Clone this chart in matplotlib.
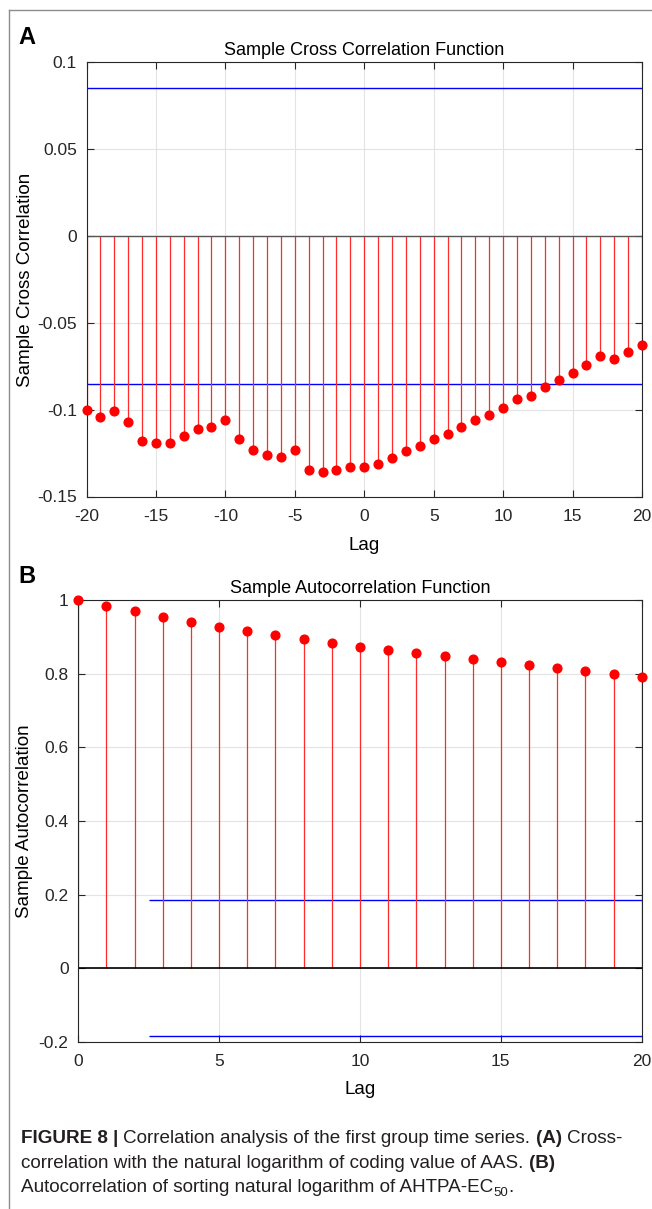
import matplotlib
matplotlib.use("Agg")
import matplotlib.pyplot as plt
from matplotlib.lines import Line2D
from matplotlib.ticker import FormatStrFormatter

plt.rcParams['font.family'] = ['Liberation Sans', 'DejaVu Sans']
plt.rcParams['axes.unicode_minus'] = False

# cross correlation, lags -20..20
lags_xcf = list(range(-20, 21))
xcf = [-0.100, -0.104, -0.101, -0.107, -0.118, -0.119, -0.119, -0.115, -0.111, -0.110,
       -0.106, -0.117, -0.123, -0.126, -0.127, -0.123, -0.135, -0.136, -0.135, -0.133,
       -0.133, -0.131, -0.128, -0.124, -0.121, -0.117, -0.114, -0.110, -0.106, -0.103,
       -0.099, -0.094, -0.092, -0.087, -0.083, -0.079, -0.074, -0.069, -0.071, -0.067,
       -0.063]
xcf_bound = 0.085

# autocorrelation, lags 0..20
lags_acf = list(range(0, 21))
acf = [1.000, 0.984, 0.970, 0.954, 0.941, 0.928, 0.915, 0.904, 0.893, 0.883, 0.873,
       0.865, 0.856, 0.847, 0.839, 0.831, 0.823, 0.816, 0.808, 0.800, 0.792]
acf_bound = 0.185
acf_bound_start = 2.5

xcf_yticks = [-0.15, -0.1, -0.05, 0, 0.05, 0.1]
acf_yticks = [-0.2, 0, 0.2, 0.4, 0.6, 0.8, 1]

W, H = 652, 1209
fig = plt.figure(figsize=(W / 100, H / 100), dpi=100)

AX_COLOR = '#262626'
GRID = '#e3e3e3'


def px_axes(left, top, right, bottom):
    return fig.add_axes([left / W, 1 - bottom / H, (right - left) / W, (bottom - top) / H])


def style(ax):
    for s in ax.spines.values():
        s.set_color(AX_COLOR)
        s.set_linewidth(0.8)
    ax.tick_params(direction='in', length=5, width=0.8, color=AX_COLOR,
                   top=True, right=True, labelsize=12.5, labelcolor=AX_COLOR, pad=7)
    ax.tick_params(axis='x', pad=9)
    ax.grid(True, color=GRID, linewidth=0.8)
    ax.set_axisbelow(True)
    ax.yaxis.set_major_formatter(FormatStrFormatter('%g'))


def place_ylabel(ax, x_px):
    # put the y label at a fixed pixel column, centred on the axes
    ax.yaxis.label.set_va('center')
    ax.yaxis.set_label_coords(x_px / W, 0.5,
                              transform=matplotlib.transforms.blended_transform_factory(
                                  fig.transFigure, ax.transAxes))


# panel A
ax1 = px_axes(86.5, 62.3, 642, 496.5)
style(ax1)
ax1.axhline(xcf_bound, color='blue', lw=1.0)
ax1.axhline(-xcf_bound, color='blue', lw=1.0)
ax1.vlines(lags_xcf, 0, xcf, color='#ff2a2a', lw=0.9)
ax1.axhline(0, color='#555555', lw=1.0)
ax1.plot(lags_xcf, xcf, 'o', color='red', ms=6.3, clip_on=False, zorder=5)
ax1.set_xlim(-20, 20)
ax1.set_ylim(-0.15, 0.1)
ax1.set_xticks(range(-20, 21, 5))
ax1.set_yticks(xcf_yticks)
ax1.set_title('Sample Cross Correlation Function', fontsize=13, color='black', pad=5)
ax1.set_xlabel('Lag', fontsize=13.5, labelpad=9)
ax1.set_ylabel('Sample Cross Correlation', fontsize=13.5)
place_ylabel(ax1, 25.5)

# panel B
ax2 = px_axes(78.3, 600, 641.7, 1042)
style(ax2)
ax2.hlines([acf_bound, -acf_bound], acf_bound_start, 20, color='blue', lw=1.0)
ax2.vlines(lags_acf, 0, acf, color='#ff2a2a', lw=0.9)
ax2.axhline(0, color='black', lw=1.2)
ax2.plot(lags_acf, acf, 'o', color='red', ms=6.3, clip_on=False, zorder=5)
ax2.set_xlim(0, 20)
ax2.set_ylim(-0.2, 1)
ax2.set_xticks(range(0, 21, 5))
ax2.set_yticks(acf_yticks)
ax2.set_title('Sample Autocorrelation Function', fontsize=13, color='black', pad=5)
ax2.set_xlabel('Lag', fontsize=13.5, labelpad=8)
ax2.set_ylabel('Sample Autocorrelation', fontsize=13.5)
place_ylabel(ax2, 25)

# panel letters
fig.text(18 / W, 1 - 38 / H, 'A', fontsize=17, fontweight='bold', va='center')
fig.text(18 / W, 1 - 576 / H, 'B', fontsize=17, fontweight='bold', va='center')

# frame lines
fig.add_artist(Line2D([9 / W, 9 / W], [0, 1 - 10 / H], transform=fig.transFigure,
                      color='#8c8c8c', lw=1.0))
fig.add_artist(Line2D([9 / W, 1], [1 - 10 / H, 1 - 10 / H], transform=fig.transFigure,
                      color='#8c8c8c', lw=1.0))

# caption, written run by run so bold parts can sit inside a line
CAP_FONT = ['Liberation Sans', 'DejaVu Sans']
CAP_SIZE = 13.6
renderer = fig.canvas.get_renderer()


def text_width(s, **kw):
    t = fig.text(0, 0, s, **kw)
    w = t.get_window_extent(renderer).width
    t.remove()
    return w


space_w = (text_width('x x', family=CAP_FONT, fontsize=CAP_SIZE)
           - text_width('xx', family=CAP_FONT, fontsize=CAP_SIZE))


def caption_line(y, runs, x=21):
    for s, bold, sub in runs:
        if s == ' ':
            x += space_w
            continue
        size = CAP_SIZE * (0.7 if sub else 1)
        dy = -4 if sub else 0
        t = fig.text(x / W, 1 - (y - dy) / H, s, family=CAP_FONT, fontsize=size,
                     fontweight='bold' if bold else 'normal', va='baseline', color='#231f20')
        x += t.get_window_extent(renderer).width


caption_line(1143, [('FIGURE 8 |', True, False), (' ', False, False),
                    ('Correlation analysis of the first group time series.', False, False),
                    (' ', False, False), ('(A)', True, False), (' ', False, False),
                    ('Cross-', False, False)])
caption_line(1168, [('correlation with the natural logarithm of coding value of AAS.', False, False),
                    (' ', False, False), ('(B)', True, False)])
caption_line(1192, [('Autocorrelation of sorting natural logarithm of AHTPA-EC', False, False),
                    ('50', False, True), ('.', False, False)])

fig.savefig('out.png', dpi=100)
